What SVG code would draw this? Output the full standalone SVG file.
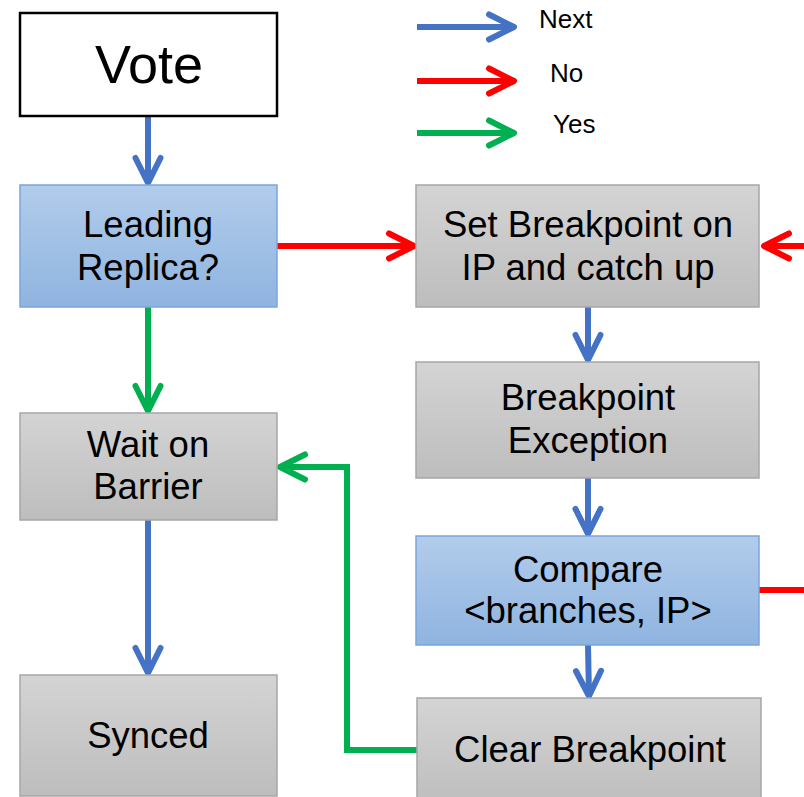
<svg xmlns="http://www.w3.org/2000/svg" width="804" height="797" viewBox="0 0 804 797">
<defs>
<linearGradient id="gGray" x1="0" y1="0" x2="0" y2="1">
<stop offset="0" stop-color="#d4d4d4"/>
<stop offset="1" stop-color="#bdbdbd"/>
</linearGradient>
<linearGradient id="gBlue" x1="0" y1="0" x2="0" y2="1">
<stop offset="0" stop-color="#b2cceb"/>
<stop offset="1" stop-color="#8fb4e0"/>
</linearGradient>
<marker id="aBlue" markerUnits="userSpaceOnUse" markerWidth="40" markerHeight="40" viewBox="-32 -20 40 40" refX="0" refY="0" orient="auto">
<path d="M-25,-12.5 L0,0 L-25,12.5" fill="none" stroke="#4472c4" stroke-width="6" stroke-linecap="round" stroke-linejoin="round"/>
</marker>
<marker id="aRed" markerUnits="userSpaceOnUse" markerWidth="40" markerHeight="40" viewBox="-32 -20 40 40" refX="0" refY="0" orient="auto">
<path d="M-25,-12.5 L0,0 L-25,12.5" fill="none" stroke="#ff0000" stroke-width="6" stroke-linecap="round" stroke-linejoin="round"/>
</marker>
<marker id="aGreen" markerUnits="userSpaceOnUse" markerWidth="40" markerHeight="40" viewBox="-32 -20 40 40" refX="0" refY="0" orient="auto">
<path d="M-25,-12.5 L0,0 L-25,12.5" fill="none" stroke="#00b050" stroke-width="6" stroke-linecap="round" stroke-linejoin="round"/>
</marker>
</defs>
<style>
text { font-family: "Liberation Sans", Arial, sans-serif; fill: #000; text-anchor: middle; }
.t { font-size: 36.5px; }
.lg { font-size: 26px; text-anchor: start; }
.gray { fill: url(#gGray); stroke: #a6a6a6; stroke-width: 1.5; }
.blue { fill: url(#gBlue); stroke: #7aa6da; stroke-width: 1.5; }
.c { fill: none; stroke-width: 6; }
.cb { stroke: #4472c4; }
.cr { stroke: #ff0000; }
.cg { stroke: #00b050; }
</style>
<rect width="804" height="797" fill="#fff"/>

<g id="legend">
<line class="c cb" x1="417" y1="27" x2="514" y2="27" marker-end="url(#aBlue)"/>
<line class="c cr" x1="417" y1="81" x2="514" y2="81" marker-end="url(#aRed)"/>
<line class="c cg" x1="417" y1="133" x2="514" y2="133" marker-end="url(#aGreen)"/>
<text class="lg" x="539" y="28">Next</text>
<text class="lg" x="550" y="82">No</text>
<text class="lg" x="553" y="133">Yes</text>
</g>

<g id="connectors">
<line class="c cb" x1="148" y1="116" x2="148" y2="183" marker-end="url(#aBlue)"/>
<line class="c cr" x1="277" y1="246" x2="414" y2="246" marker-end="url(#aRed)"/>
<line class="c cg" x1="148" y1="307" x2="148" y2="411" marker-end="url(#aGreen)"/>
<line class="c cb" x1="148" y1="520" x2="148" y2="673" marker-end="url(#aBlue)"/>
<line class="c cb" x1="588" y1="307" x2="588" y2="360" marker-end="url(#aBlue)"/>
<line class="c cb" x1="588" y1="478" x2="588" y2="534" marker-end="url(#aBlue)"/>
<line class="c cb" x1="588" y1="645" x2="589" y2="696" marker-end="url(#aBlue)"/>
<line class="c cr" x1="759" y1="590" x2="804" y2="590"/>
<line class="c cr" x1="810" y1="246" x2="764" y2="246" marker-end="url(#aRed)"/>
<path class="c cg" d="M417,750 H347 V467 H280" marker-end="url(#aGreen)"/>
</g>

<g id="vote">
<rect x="20" y="13" width="257" height="103" fill="#fff" stroke="#000" stroke-width="2.5"/>
<text x="149" y="83" style="font-size:54px">Vote</text>
</g>

<g id="leading">
<rect class="blue" x="20" y="185" width="257" height="122"/>
<text class="t" x="148" y="237">Leading</text>
<text class="t" x="148" y="280">Replica?</text>
</g>

<g id="wait">
<rect class="gray" x="20" y="413" width="257" height="107"/>
<text class="t" x="148" y="457">Wait on</text>
<text class="t" x="148" y="499">Barrier</text>
</g>

<g id="synced">
<rect class="gray" x="20" y="675" width="257" height="121"/>
<text class="t" x="148" y="748">Synced</text>
</g>

<g id="setbp">
<rect class="gray" x="416" y="185" width="343" height="122"/>
<text class="t" x="588" y="237">Set Breakpoint on</text>
<text class="t" x="588" y="280">IP and catch up</text>
</g>

<g id="bpexc">
<rect class="gray" x="416" y="362" width="343" height="116"/>
<text class="t" x="588" y="410">Breakpoint</text>
<text class="t" x="588" y="453">Exception</text>
</g>

<g id="compare">
<rect class="blue" x="416" y="536" width="343" height="109"/>
<text class="t" x="588" y="582">Compare</text>
<text class="t" x="588" y="623">&lt;branches, IP&gt;</text>
</g>

<g id="clearbp">
<rect class="gray" x="417" y="698" width="344" height="110"/>
<text class="t" x="590" y="762">Clear Breakpoint</text>
</g>
</svg>
